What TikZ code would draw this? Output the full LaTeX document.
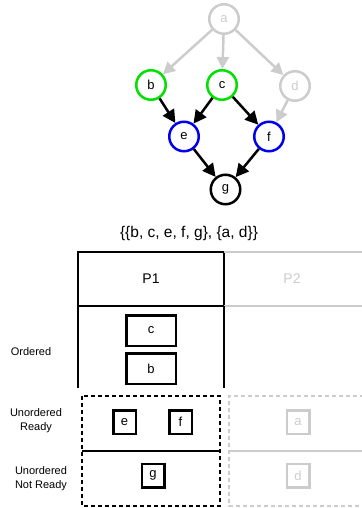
\documentclass[tikz,border=0pt]{standalone}
\usepackage{fontspec}
\setmainfont{Liberation Sans}
\usetikzlibrary{arrows.meta}
\definecolor{faded}{RGB}{204,204,204}
\definecolor{rdygreen}{RGB}{0,225,0}
\definecolor{rdyblue}{RGB}{0,0,235}
\tikzset{
  vtx/.style={circle, draw, line width=2.5pt, minimum size=29.5pt, inner sep=0pt,
              font=\fontsize{13}{15}\selectfont},
  fadedvtx/.style={vtx, draw=faded, text=faded},
  greenvtx/.style={vtx, draw=rdygreen},
  bluevtx/.style={vtx, draw=rdyblue},
  edge/.style={line width=2.5pt, -{Triangle[length=13pt,width=13pt]}},
  fadededge/.style={edge, faded, -{Triangle[length=12pt,width=12pt]}},
  task/.style={draw, line width=2.5pt, inner sep=0pt, font=\fontsize{13}{15}\selectfont},
  bigtask/.style={task, minimum width=49.5pt, minimum height=30.5pt},
  smalltask/.style={task, minimum width=22.5pt, minimum height=23.5pt},
  fadedtask/.style={smalltask, draw=faded, text=faded},
  rowlabel/.style={align=center, font=\fontsize{11}{14.5}\selectfont},
  queue/.style={line width=2.5pt, dash pattern=on 4pt off 3pt},
}
\begin{document}
\begin{tikzpicture}[x=1pt, y=-1pt]
\useasboundingbox (0,0) rectangle (361,508);
\coordinate (rim) at (362,0);

% dependency graph
\node[fadedvtx] (a) at (224,19) {a};
\node[greenvtx] (b) at (151,85) {b};
\node[greenvtx] (c) at (222,85) {c};
\node[fadedvtx] (d) at (295,86) {d};
\node[bluevtx] (e) at (184,136.5) {e};
\node[bluevtx] (f) at (269,136.5) {f};
\node[vtx] (g) at (225.5,189.5) {g};

\draw[fadededge] (a) -- (b);
\draw[fadededge] (a) -- (c);
\draw[fadededge] (a) -- (d);
\draw[fadededge] (d) -- (f);
\draw[edge] (b) -- (e);
\draw[edge] (c) -- (e);
\draw[edge] (c) -- (f);
\draw[edge] (e) -- (g);
\draw[edge] (f) -- (g);

\node[font=\fontsize{15.5}{18}\selectfont] (part) at (189,233.5) {\{\{b, c, e, f, g\}, \{a, d\}\}};

% processor columns
\node[draw, line width=2.5pt, outer sep=0pt, minimum width=146pt, minimum height=54pt,
      inner sep=0pt, font=\fontsize{14}{16}\selectfont] (p1) at (151,279) {P1};
\node[text=faded, font=\fontsize{14}{16}\selectfont] (p2) at (292,279) {P2};
\draw[faded, line width=2.5pt] (p1.north east) -- (p1.north east -| rim);
\draw[faded, line width=2.5pt] (p1.south east) -- (p1.south east -| rim);
\draw[line width=2.5pt] (p1.south west) -- ++(0,82);
\draw[line width=2.5pt] (p1.south east) -- ++(0,82);

% ordered queue
\node[bigtask] (oc) at (151,330.5) {c};
\node[bigtask] (ob) at (151,368.5) {b};

% unordered queues of P1
\draw[queue] (82,396) rectangle (220,506);
\draw[line width=2.5pt] (82,451) -- (220,451);
\node[smalltask] (ue) at (124.5,422) {e};
\node[smalltask] (uf) at (180.5,422) {f};
\node[smalltask] (ug) at (153,475.5) {g};

% unordered queues of P2
\draw[queue, faded] (364,396) -- (229,396) -- (229,506) -- (364,506);
\draw[faded, line width=2.5pt] (229,451) -- (362,451);
\node[fadedtask] (ua) at (298,422) {a};
\node[fadedtask] (ud) at (298,475.5) {d};

% row labels
\node[rowlabel] (lo) at (31,352) {Ordered};
\node[rowlabel] (lr) at (36,420.5) {Unordered\\Ready};
\node[rowlabel] (ln) at (41,478.5) {Unordered\\Not Ready};
\end{tikzpicture}
\end{document}
